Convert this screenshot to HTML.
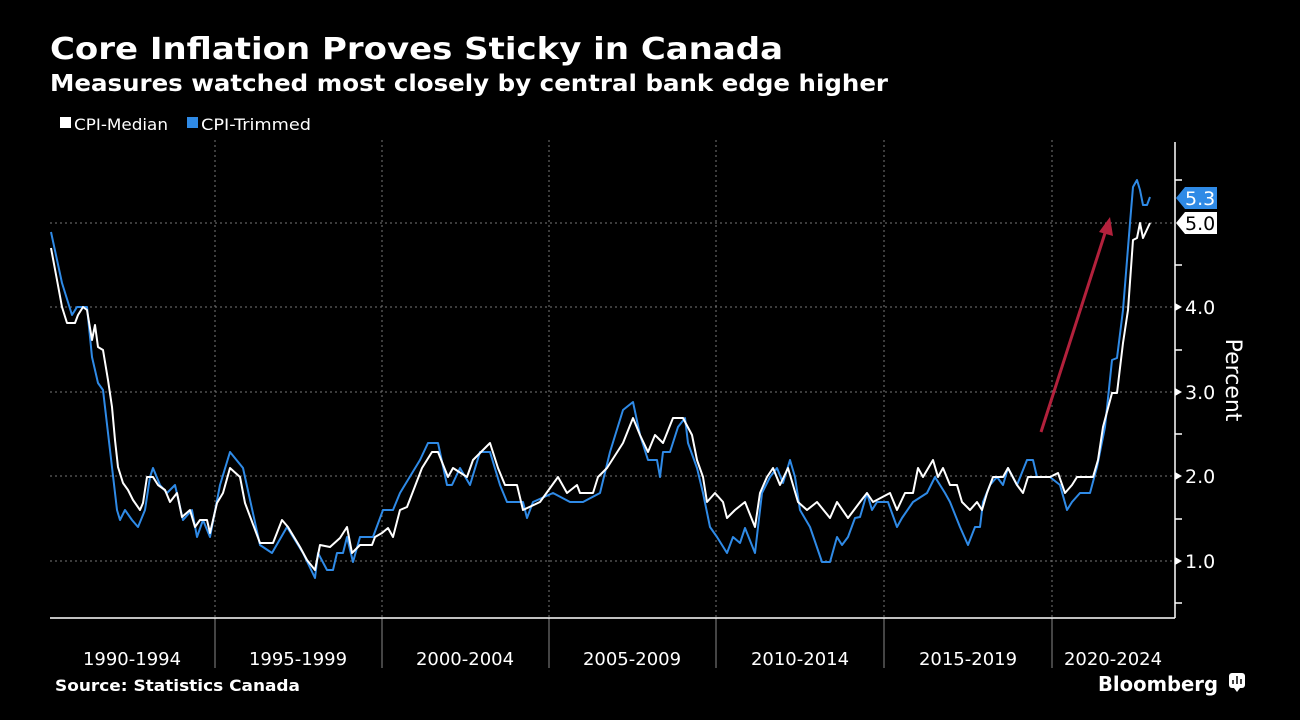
<!DOCTYPE html>
<html><head><meta charset="utf-8"><style>html,body{margin:0;padding:0;background:#000;}svg{display:block}</style></head>
<body>
<svg width="1300" height="720" viewBox="0 0 1300 720" xmlns="http://www.w3.org/2000/svg">
<rect width="1300" height="720" fill="#000"/>
<text x="50" y="59" fill="#fff" font-family="DejaVu Sans" font-weight="bold" font-size="30" textLength="733" lengthAdjust="spacingAndGlyphs">Core Inflation Proves Sticky in Canada</text>
<text x="50" y="91" fill="#fff" font-family="DejaVu Sans" font-weight="bold" font-size="23" textLength="838" lengthAdjust="spacingAndGlyphs">Measures watched most closely by central bank edge higher</text>
<rect x="60" y="117" width="11" height="11" fill="#fff"/>
<text x="74" y="130" fill="#fff" font-family="DejaVu Sans" font-size="16" textLength="94" lengthAdjust="spacingAndGlyphs">CPI-Median</text>
<rect x="187" y="117" width="11" height="11" fill="#2f8ae6"/>
<text x="201" y="130" fill="#fff" font-family="DejaVu Sans" font-size="16" textLength="110" lengthAdjust="spacingAndGlyphs">CPI-Trimmed</text>
<g stroke="#777" stroke-width="1" stroke-dasharray="2,3">
<line x1="50" y1="223" x2="1175" y2="223"/><line x1="50" y1="307" x2="1175" y2="307"/><line x1="50" y1="392" x2="1175" y2="392"/><line x1="50" y1="476" x2="1175" y2="476"/><line x1="50" y1="561" x2="1175" y2="561"/>
<line x1="215" y1="140" x2="215" y2="618"/><line x1="382" y1="140" x2="382" y2="618"/><line x1="549" y1="140" x2="549" y2="618"/><line x1="716" y1="140" x2="716" y2="618"/><line x1="884" y1="140" x2="884" y2="618"/><line x1="1052" y1="140" x2="1052" y2="618"/>
</g>
<g stroke="#888" stroke-width="1">
<line x1="215" y1="618" x2="215" y2="668"/><line x1="382" y1="618" x2="382" y2="668"/><line x1="549" y1="618" x2="549" y2="668"/><line x1="716" y1="618" x2="716" y2="668"/><line x1="884" y1="618" x2="884" y2="668"/><line x1="1052" y1="618" x2="1052" y2="668"/>
</g>
<g stroke="#fff" stroke-width="1.5">
<line x1="50" y1="618" x2="1175" y2="618"/><line x1="1175" y1="142" x2="1175" y2="618"/>
<line x1="1175" y1="180" x2="1182" y2="180"/><line x1="1175" y1="265" x2="1182" y2="265"/><line x1="1175" y1="350" x2="1182" y2="350"/><line x1="1175" y1="434" x2="1182" y2="434"/><line x1="1175" y1="519" x2="1182" y2="519"/><line x1="1175" y1="603" x2="1182" y2="603"/>
</g>
<g fill="#fff"><path d="M1175 303 l7 4 -7 4z"/><path d="M1175 388 l7 4 -7 4z"/><path d="M1175 472 l7 4 -7 4z"/><path d="M1175 557 l7 4 -7 4z"/></g>
<g fill="#fff" font-family="DejaVu Sans" font-size="19">
<text x="1185" y="314">4.0</text><text x="1185" y="399">3.0</text><text x="1185" y="483">2.0</text><text x="1185" y="568">1.0</text>
</g>
<text transform="translate(1226,380) rotate(90)" fill="#fff" font-family="DejaVu Sans" font-size="22" text-anchor="middle">Percent</text>
<g fill="#fff" font-family="DejaVu Sans" font-size="18" text-anchor="middle">
<text x="132" y="665">1990-1994</text><text x="298" y="665">1995-1999</text><text x="465" y="665">2000-2004</text><text x="632" y="665">2005-2009</text><text x="800" y="665">2010-2014</text><text x="968" y="665">2015-2019</text><text x="1113" y="665">2020-2024</text>
</g>
<polyline fill="none" stroke="#2f8ae6" stroke-width="2" stroke-linejoin="round" points="51,232 62,283 72,315 77,307 87,307 92,357 98,383 103,390 117,510 120,520 125,510 132,520 138,527 145,510 150,477 153,468 160,485 167,493 175,485 183,520 192,510 197,537 203,520 210,537 220,485 230,452 243,468 260,545 272,553 287,527 303,553 315,578 318,553 327,570 333,570 337,553 343,553 347,537 353,562 360,537 373,537 383,510 393,510 400,493 420,460 428,443 438,443 447,485 452,485 460,468 470,485 480,452 490,452 500,485 507,502 523,502 527,518 533,502 553,493 570,502 583,502 600,493 610,452 623,410 633,402 640,435 648,460 657,460 660,477 663,452 670,452 678,427 685,418 688,443 697,468 703,493 710,527 717,537 727,553 733,537 740,543 745,528 755,553 762,493 770,477 777,468 783,483 790,460 795,477 800,510 810,527 822,562 830,562 837,537 842,545 848,537 855,518 860,517 867,493 872,510 877,502 888,502 897,527 902,518 913,502 927,493 935,477 945,493 950,502 960,527 968,545 975,527 980,527 983,502 990,485 997,477 1003,485 1008,468 1017,485 1027,460 1033,460 1037,477 1050,477 1060,485 1067,510 1072,502 1080,493 1090,493 1097,467 1105,427 1112,360 1117,358 1123,310 1130,223 1133,187 1137,180 1140,190 1143,205 1147,205 1150,197"/>
<polyline fill="none" stroke="#fff" stroke-width="2" stroke-linejoin="round" points="51,248 57,280 62,307 67,323 75,323 78,315 83,307 87,310 92,340 95,325 98,347 103,350 108,380 112,407 115,440 118,467 123,483 128,490 133,500 140,510 143,503 147,477 153,477 158,485 165,490 170,502 177,493 182,517 190,510 195,527 200,520 207,520 210,533 217,503 223,493 230,468 240,477 245,503 260,543 273,543 282,520 288,527 300,547 307,560 315,570 320,545 330,547 340,538 347,527 352,553 360,545 372,545 375,537 382,533 388,528 393,537 400,510 407,507 422,468 432,452 438,452 448,477 453,468 467,477 473,460 490,443 498,468 505,485 517,485 523,510 540,502 558,477 567,493 577,485 580,493 593,493 598,477 607,468 623,443 633,418 640,435 648,452 655,435 663,443 673,418 683,418 692,435 697,460 703,477 707,502 715,493 723,502 727,518 735,510 745,502 755,527 760,493 767,477 773,468 780,485 788,468 798,502 807,510 817,502 830,518 837,502 848,518 860,502 867,493 873,502 890,493 897,510 905,493 913,493 918,468 923,477 933,460 938,477 943,468 950,485 957,485 962,502 970,510 977,502 982,510 987,493 993,477 1003,477 1008,468 1017,485 1023,493 1028,477 1035,477 1050,477 1058,473 1065,493 1072,485 1077,477 1093,477 1098,460 1103,427 1112,393 1117,393 1123,343 1128,310 1133,240 1137,238 1140,223 1143,238 1150,223"/>
<line x1="1041" y1="432" x2="1106" y2="230" stroke="#b3213c" stroke-width="3"/>
<path d="M1110 217 L1113 236 L1099 232 Z" fill="#b3213c"/>
<path d="M1176 198 L1185 187 L1217 187 L1217 209 L1185 209 Z" fill="#2f8ae6"/>
<text x="1185" y="205" fill="#fff" font-family="DejaVu Sans" font-size="19">5.3</text>
<path d="M1176 223 L1185 212 L1217 212 L1217 234 L1185 234 Z" fill="#fff"/>
<text x="1185" y="230" fill="#000" font-family="DejaVu Sans" font-size="19">5.0</text>
<text x="55" y="691" fill="#fff" font-family="DejaVu Sans" font-weight="bold" font-size="16" textLength="245" lengthAdjust="spacingAndGlyphs">Source: Statistics Canada</text>
<text x="1098" y="691" fill="#fff" font-family="DejaVu Sans" font-weight="bold" font-size="20" textLength="120" lengthAdjust="spacingAndGlyphs">Bloomberg</text>
<rect x="1229" y="673" width="16" height="15" rx="3" fill="#fff"/>
<path d="M1234 688 l3 4 3 -4z" fill="#fff"/>
<g stroke="#000" stroke-width="1.5"><line x1="1233" y1="684" x2="1233" y2="680"/><line x1="1237" y1="684" x2="1237" y2="676"/><line x1="1241" y1="684" x2="1241" y2="679"/></g>
</svg>
</body></html>
